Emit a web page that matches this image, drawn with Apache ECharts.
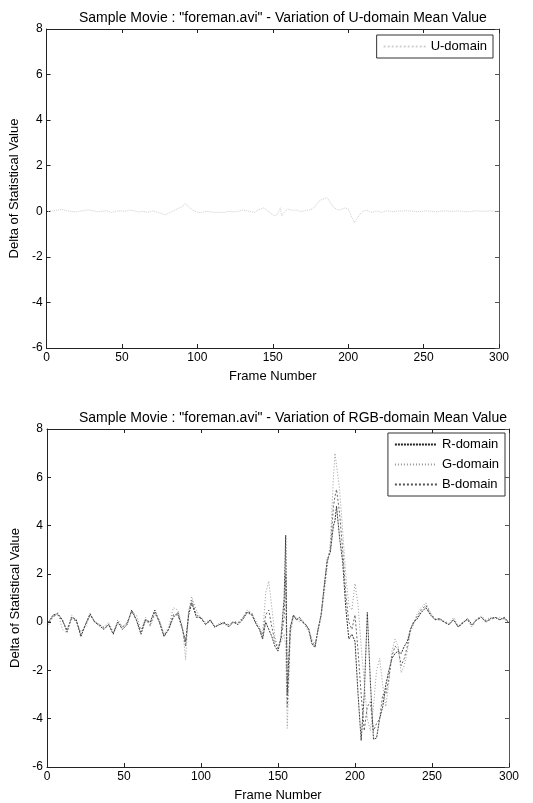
<!DOCTYPE html>
<html>
<head>
<meta charset="utf-8">
<script src="https://cdn.jsdelivr.net/npm/echarts@6/dist/echarts.min.js"></script>
<style>
  html, body { margin: 0; padding: 0; background: #fff; }
  #chart { width: 533px; height: 803px; }
</style>
</head>
<body>
<div id="chart"></div>
<script>
// frame numbers sampled from the plots (denser where the curves move a lot)
const frames = [
  1, 4, 7, 10, 13, 16, 19, 22, 25, 28,
  31, 34, 37, 40, 43, 46, 49, 52, 55, 58,
  61, 64, 67, 70, 73, 76, 79, 82, 85, 88,
  90, 92, 94, 97, 100, 103, 106, 109, 112, 115,
  118, 121, 124, 127, 130, 133, 136, 138, 140, 142,
  144, 146, 148, 150, 152, 154, 155, 156, 157, 158,
  160, 162, 164, 166, 168, 170, 172, 174, 176, 178,
  180, 182, 184, 186, 187, 188, 190, 192, 194, 196,
  198, 200, 202, 204, 206, 208, 210, 212, 214, 216,
  218, 220, 222, 224, 226, 228, 230, 232, 234, 236,
  238, 240, 243, 246, 249, 252, 255, 258, 261, 264,
  267, 270, 273, 276, 279, 282, 285, 288, 291, 294,
  297, 300
];

const uDomain = [
  0.0, 0.02, 0.05, 0.08, 0.03, 0.0, -0.03, 0.0, 0.04, 0.06,
  0.02, -0.02, 0.0, 0.03, -0.05, 0.0, 0.02, 0.0, 0.05, 0.02,
  -0.03, 0.0, -0.05, 0.02, -0.03, -0.1, -0.15, -0.05, 0.05, 0.15,
  0.2, 0.35, 0.2, 0.05, -0.05, -0.05, 0.0, -0.03, -0.05, -0.05,
  -0.05, 0.0, -0.03, 0.0, 0.05, 0.02, -0.02, -0.05, 0.05, 0.1,
  0.15, 0.05, -0.05, -0.15, -0.2, 0.0, 0.15, -0.2, -0.1, 0.0,
  0.1, 0.05, 0.05, 0.05, 0.0, 0.0, 0.05, 0.05, 0.1, 0.2,
  0.4, 0.5, 0.55, 0.6, 0.55, 0.4, 0.2, 0.1, 0.05, 0.1,
  0.15, 0.1, -0.2, -0.5, -0.3, -0.1, 0.0, 0.05, 0.0, -0.05,
  0.0, 0.0, -0.05, 0.0, 0.02, 0.0, -0.02, 0.0, 0.02, 0.0,
  0.03, 0.02, 0.0, -0.02, 0.0, 0.02, 0.0, -0.02, 0.0, 0.02,
  0.0, 0.0, 0.02, 0.0, -0.02, 0.0, 0.02, 0.0, 0.0, 0.02,
  0.0, 0.0
];

const rDomain = [
  0.0, 0.3, 0.35, 0.1, -0.4, 0.2, 0.1, -0.6, -0.1, 0.35,
  0.0, -0.15, -0.3, -0.1, -0.5, 0.0, -0.3, -0.1, 0.5, 0.1,
  -0.5, 0.1, 0.0, 0.5, 0.0, -0.6, -0.3, 0.2, 0.4, -0.3,
  -0.8, 0.3, 0.8, 0.2, 0.2, -0.1, 0.1, -0.2, -0.1, 0.0,
  -0.2, 0.0, -0.1, 0.1, 0.4, 0.3, -0.1, -0.3, -0.7, 0.0,
  -0.3, -0.6, -1.0, -1.2, -0.6, 1.0, 3.6, -3.0, -1.5, -0.2,
  0.3, 0.1, 0.2, 0.0, -0.1, -0.3, -0.9, -1.05, -0.3, 0.3,
  1.5, 2.6, 2.9, 4.0, 4.2, 4.8, 3.5, 2.5, 0.6, -0.7,
  -0.5, -0.8, -3.0, -4.9, -3.0, 0.4, -2.5, -4.85, -4.8, -4.0,
  -3.5, -2.6, -2.0, -1.5, -1.3, -1.2, -1.3, -1.0, -0.8, -0.3,
  0.0, 0.1, 0.4, 0.6, 0.3, 0.1, 0.15, 0.0, -0.1, 0.1,
  -0.2, -0.05, 0.15, -0.1, 0.1, 0.2, 0.0, 0.15, 0.2, 0.1,
  0.2, -0.05
];

const gDomain = [
  -0.1, 0.2, 0.4, -0.3, -0.45, 0.3, 0.0, -0.4, -0.2, 0.3,
  0.05, -0.1, -0.2, 0.0, -0.4, 0.1, -0.2, 0.0, 0.4, 0.3,
  -0.3, 0.2, -0.2, 0.3, 0.1, -0.5, -0.2, 0.6, 0.5, -0.2,
  -1.55, 0.5, 1.05, 0.5, 0.1, 0.0, 0.1, -0.25, 0.0, -0.1,
  -0.15, 0.05, 0.0, 0.2, 0.5, 0.4, 0.0, -0.2, -0.5, 1.2,
  1.7, 0.6, -0.6, -1.1, -0.8, -0.5, -1.0, -4.4, -2.5, -0.5,
  0.2, 0.2, 0.0, 0.1, -0.2, -0.4, -0.7, -0.9, -0.4, 0.2,
  1.2, 2.3, 3.3, 6.0, 7.0, 6.5, 5.5, 3.8, 2.0, 0.7,
  0.5, 1.6, 0.7, -1.0, -2.5, -4.0, -4.5, -3.5, -2.0, -1.5,
  -2.6, -3.5, -2.5, -1.2, -0.7, -1.0, -2.1, -1.8, -1.2, -0.4,
  -0.1, 0.3, 0.6, 0.8, 0.4, 0.15, 0.1, 0.05, -0.05, 0.2,
  -0.15, 0.0, 0.1, -0.2, 0.15, 0.25, 0.1, 0.2, 0.15, 0.2,
  0.1, 0.0
];

const bDomain = [
  0.0, 0.25, 0.3, 0.05, -0.3, 0.15, 0.05, -0.5, -0.1, 0.3,
  0.0, -0.1, -0.25, -0.1, -0.45, 0.0, -0.2, -0.05, 0.45, 0.1,
  -0.4, 0.1, -0.1, 0.4, 0.0, -0.55, -0.3, 0.3, 0.3, -0.3,
  -1.0, 0.4, 0.9, 0.3, 0.15, -0.1, 0.05, -0.2, -0.1, -0.05,
  -0.1, 0.0, -0.05, 0.15, 0.45, 0.35, -0.1, -0.3, -0.6, 0.3,
  0.5, -0.2, -0.8, -1.1, -0.7, 0.2, 2.0, -3.5, -2.0, -0.3,
  0.25, 0.1, 0.1, 0.0, -0.1, -0.3, -0.8, -1.0, -0.3, 0.3,
  1.4, 2.5, 3.0, 4.8, 5.2, 5.5, 4.5, 3.0, 1.2, 0.0,
  -0.3, 0.3, -1.2, -3.0, -4.5, -3.5, -3.3, -4.5, -4.2, -4.0,
  -3.0, -3.0, -2.3, -1.4, -1.0, -1.1, -1.8, -1.5, -1.0, -0.3,
  -0.05, 0.2, 0.5, 0.7, 0.35, 0.1, 0.1, 0.0, -0.1, 0.1,
  -0.2, 0.0, 0.1, -0.15, 0.1, 0.2, 0.05, 0.1, 0.2, 0.1,
  0.15, 0.0
];

const titles = [
  'Sample Movie : "foreman.avi" - Variation of U-domain Mean Value',
  'Sample Movie : "foreman.avi" - Variation of RGB-domain Mean Value'
];

const pairs = (vals) => frames.map((f, i) => [f, vals[i]]);

const font = 'Liberation Sans, Arial, sans-serif';
const axisColor = '#222';

function bottomX(gridIndex) {
  return {
    type: 'value', gridIndex, min: 0, max: 300, interval: 50,
    name: 'Frame Number', nameLocation: 'middle', nameGap: 22,
    nameTextStyle: { color: '#000', fontSize: 13, fontFamily: font },
    axisLine: { onZero: false, lineStyle: { color: axisColor } },
    axisTick: { inside: true, length: 4, lineStyle: { color: axisColor } },
    axisLabel: { color: '#000', fontSize: 12, fontFamily: font, margin: 4 },
    splitLine: { show: false }
  };
}
function topX(gridIndex) {
  return {
    type: 'value', gridIndex, position: 'top', min: 0, max: 300, interval: 50,
    axisLine: { onZero: false, lineStyle: { color: axisColor } },
    axisTick: { inside: true, length: 4, lineStyle: { color: axisColor } },
    axisLabel: { show: false }, splitLine: { show: false }
  };
}
function leftY(gridIndex) {
  return {
    type: 'value', gridIndex, min: -6, max: 8, interval: 2,
    name: 'Delta of Statistical Value', nameLocation: 'middle', nameGap: 22,
    nameTextStyle: { color: '#000', fontSize: 13, fontFamily: font },
    axisLine: { show: true, onZero: false, lineStyle: { color: axisColor } },
    axisTick: { show: true, inside: true, length: 4, lineStyle: { color: axisColor } },
    axisLabel: { color: '#000', fontSize: 12, fontFamily: font, margin: 4 },
    splitLine: { show: false }
  };
}
function rightY(gridIndex) {
  return {
    type: 'value', gridIndex, position: 'right', min: -6, max: 8, interval: 2,
    axisLine: { show: true, onZero: false, lineStyle: { color: '#555' } },
    axisTick: { show: true, inside: true, length: 4, lineStyle: { color: '#555' } },
    axisLabel: { show: false }, splitLine: { show: false }
  };
}

const legendStyle = {
  orient: 'vertical',
  itemWidth: 42, itemHeight: 10, itemGap: 7,
  itemStyle: { opacity: 0 },
  borderColor: '#333', borderWidth: 1, borderRadius: 0,
  backgroundColor: '#fff',
  textStyle: { color: '#000', fontSize: 13, fontFamily: font },
  padding: [5, 6, 5, 6]
};

const myChart = echarts.init(document.getElementById('chart'), null, { renderer: 'canvas' });

const option = {
  animation: false,
  backgroundColor: '#fff',
  title: [
    { text: titles[0], left: 74, top: 6,
      textStyle: { color: '#000', fontSize: 14, fontWeight: 'normal', fontFamily: font } },
    { text: titles[1], left: 74, top: 406,
      textStyle: { color: '#000', fontSize: 14, fontWeight: 'normal', fontFamily: font } }
  ],
  grid: [
    { left: 45, right: 34, top: 29, height: 319 },
    { left: 47, right: 24, top: 429, height: 339 }
  ],
  legend: [
    Object.assign({}, legendStyle, { data: ['U-domain'], right: 40, top: 35 }),
    Object.assign({}, legendStyle, { data: ['R-domain', 'G-domain', 'B-domain'], right: 28, top: 433 })
  ],
  xAxis: [bottomX(0), topX(0), bottomX(1), topX(1)],
  yAxis: [leftY(0), rightY(0), leftY(1), rightY(1)],
  series: [
    {
      name: 'U-domain', type: 'line', xAxisIndex: 0, yAxisIndex: 0,
      data: pairs(uDomain), symbol: 'none',
      itemStyle: { color: '#cfcfcf' },
      lineStyle: { color: '#cfcfcf', width: 1, type: 'dotted' }
    },
    {
      name: 'R-domain', type: 'line', xAxisIndex: 2, yAxisIndex: 2,
      data: pairs(rDomain), symbol: 'none',
      itemStyle: { color: '#222' },
      lineStyle: { color: '#222', width: 0.9, type: [2, 1] }
    },
    {
      name: 'G-domain', type: 'line', xAxisIndex: 2, yAxisIndex: 2,
      data: pairs(gDomain), symbol: 'none',
      itemStyle: { color: '#999' },
      lineStyle: { color: '#999', width: 1, type: [1, 2] }
    },
    {
      name: 'B-domain', type: 'line', xAxisIndex: 2, yAxisIndex: 2,
      data: pairs(bDomain), symbol: 'none',
      itemStyle: { color: '#555' },
      lineStyle: { color: '#555', width: 0.9, type: [2, 2] }
    }
  ]
};

option && myChart.setOption(option);
</script>
</body>
</html>
